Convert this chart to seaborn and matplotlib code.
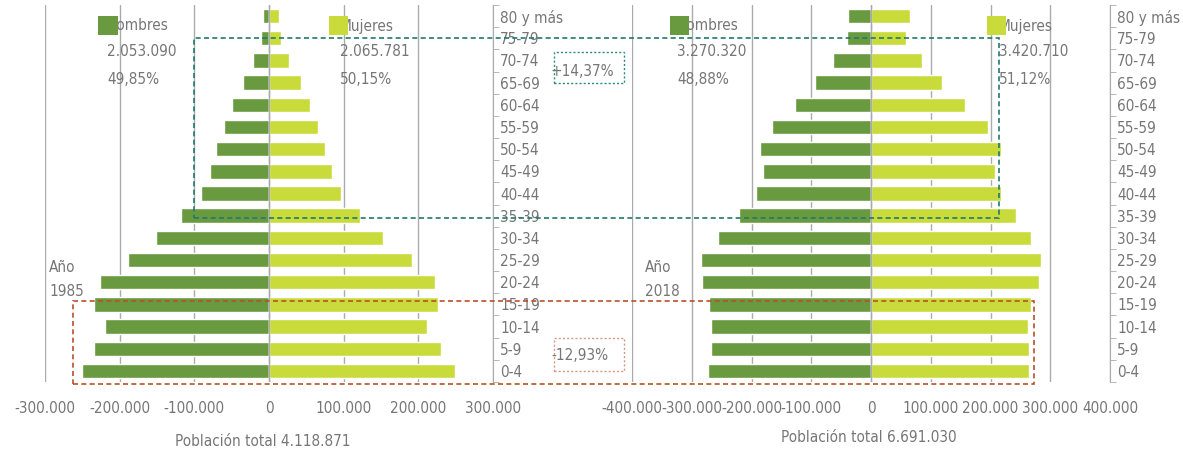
import numpy as np
import pandas as pd
import matplotlib
matplotlib.use("Agg")
import matplotlib.pyplot as plt
import seaborn as sns
from matplotlib.patches import Rectangle
from matplotlib.ticker import FuncFormatter

ages = ['80 y más', '75-79', '70-74', '65-69', '60-64', '55-59', '50-54', '45-49',
        '40-44', '35-39', '30-34', '25-29', '20-24', '15-19', '10-14', '5-9', '0-4']

# valores (personas)
hombres_1985 = [8000, 10700, 21000, 35000, 49000, 60000, 71000, 79000,
                91000, 118000, 152000, 189000, 227000, 235000, 219000, 235000, 251000]
mujeres_1985 = [13000, 16000, 27000, 43000, 55500, 65000, 75600, 85000,
                97000, 122000, 153000, 191000, 222000, 226000, 211000, 230000, 249000]
hombres_2018 = [38000, 40000, 63000, 94000, 127000, 165000, 186000, 181000,
                193000, 221000, 256000, 285000, 283000, 271000, 268000, 268000, 273000]
mujeres_2018 = [65000, 59000, 85000, 119000, 158000, 196500, 217000, 208000,
                217000, 243000, 268000, 285000, 282000, 267000, 262000, 264000, 265000]

tot_1985 = ['2.053.090', '2.065.781', '49,85%', '50,15%', 'Población total 4.118.871']
tot_2018 = ['3.270.320', '3.420.710', '48,88%', '51,12%', 'Población total 6.691.030']

verde = '#699A3F'
lima = '#C8DB3B'
gris = '#767676'
grid = '#ABABAB'
fs = 11

sns.set_style('white')
plt.rcParams['font.family'] = ['DejaVu Sans']
plt.rcParams['font.stretch'] = 'condensed'

W, H = 1183, 453
fig = plt.figure(figsize=(W / 100, H / 100), dpi=100)


def fx(x):
    return x / W


def fy(y):
    return 1 - y / H


def fmt(v, pos):
    return f"{int(v):,}".replace(',', '.')


def piramide(rect, hombres, mujeres, lim):
    ax = fig.add_axes(rect)
    df = pd.DataFrame({
        'edad': ages * 2,
        'valor': [-v for v in hombres] + mujeres,
        'sexo': ['Hombres'] * len(ages) + ['Mujeres'] * len(ages),
    })
    sns.barplot(data=df, x='valor', y='edad', hue='sexo', order=ages,
                hue_order=['Hombres', 'Mujeres'], palette=[verde, lima],
                dodge=False, width=0.65, saturation=1, legend=False, ax=ax)
    ax.set_xlim(-lim, lim)
    ax.set_ylim(len(ages) - 0.5, -0.5)
    ax.set_xticks(np.arange(-lim, lim + 1, 100000))
    ax.xaxis.set_major_formatter(FuncFormatter(fmt))
    ax.grid(axis='x', color=grid, lw=1)
    ax.set_axisbelow(True)
    ax.axvline(0, color=grid, lw=1, zorder=3)
    ax.set_xlabel('')
    ax.set_ylabel('')
    for s in ['top', 'left', 'bottom']:
        ax.spines[s].set_visible(False)
    ax.spines['right'].set_color(grid)
    ax.yaxis.tick_right()
    ax.tick_params(axis='y', which='major', length=0, pad=5, labelsize=fs, labelcolor=gris)
    ax.set_yticks(np.arange(-0.5, len(ages), 1), minor=True)
    ax.tick_params(axis='y', which='minor', length=4, color=grid, right=True, left=False)
    ax.tick_params(axis='x', length=0, pad=14, labelsize=fs, labelcolor=gris)
    return ax


ax1 = piramide([fx(45), fy(382), fx(448), 377 / H], hombres_1985, mujeres_1985, 300000)
ax2 = piramide([fx(632), fy(382), fx(478), 377 / H], hombres_2018, mujeres_2018, 400000)


def texto(x, y, s, **kw):
    fig.text(fx(x), fy(y), s, color=gris, fontsize=fs, va='center', ha='left', **kw)


def cuadro(x0, y0, x1, y1, color, ls, lw=1.2, fill=False, z=5):
    r = Rectangle((fx(x0), fy(y1)), fx(x1) - fx(x0), fy(y0) - fy(y1),
                  transform=fig.transFigure, fill=fill, facecolor=color if fill else 'none',
                  edgecolor=color if not fill else 'none', ls=ls, lw=lw, zorder=z)
    fig.add_artist(r)


# leyendas y totales
for xh, xm, tot in [(107, 340, tot_1985), (677, 999, tot_2018)]:
    texto(xh, 26, 'Hombres', zorder=4)
    texto(xm, 26, 'Mujeres', zorder=4)
    texto(xh, 52, tot[0])
    texto(xm, 52, tot[1])
    texto(xh, 79, tot[2])
    texto(xm, 79, tot[3])

cuadro(98, 16, 118, 35, verde, '-', fill=True, z=6)
cuadro(329, 16, 348, 35, lima, '-', fill=True, z=6)
cuadro(670, 16, 689, 35, verde, '-', fill=True, z=6)
cuadro(987, 16, 1006, 35, lima, '-', fill=True, z=6)

texto(49, 268, 'Año')
texto(49, 292, '1985')
texto(645, 268, 'Año')
texto(645, 292, '2018')

fig.text(fx(263), fy(442), tot_1985[4], color=gris, fontsize=fs, ha='center', va='center')
fig.text(fx(869), fy(437), tot_2018[4], color=gris, fontsize=fs, ha='center', va='center')

# recuadros de comparacion
cuadro(194, 38, 999, 218, '#1F7A6C', (0, (3, 2)))
cuadro(73, 301, 1034, 384, '#B9502A', (0, (3, 2)))
cuadro(554, 52, 624, 83, '#2E8A7C', (0, (1.5, 1.5)), lw=1)
cuadro(554, 338, 624, 371, '#D39A80', (0, (1.5, 1.5)), lw=1)
texto(551, 71, '+14,37%')
texto(551, 356, '-12,93%')

fig.savefig('out.png', dpi=100)
